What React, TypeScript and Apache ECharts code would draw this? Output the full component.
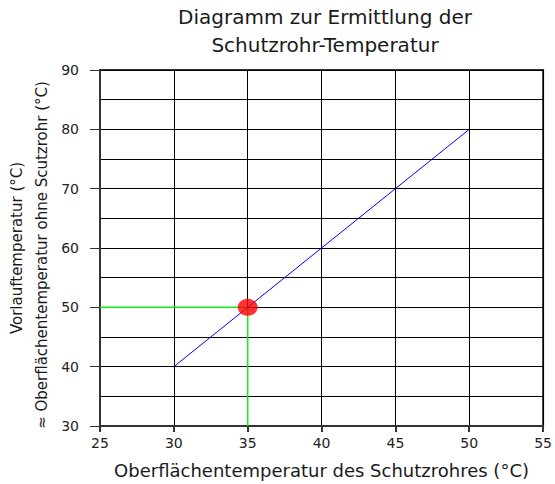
import React, { useEffect, useRef } from "react";
import * as echarts from "echarts";

const titleLines = ["Diagramm zur Ermittlung der", "Schutzrohr-Temperatur"];
const xAxisName = "Oberflächentemperatur des Schutzrohres (°C)";
const yAxisName1 = "Vorlauftemperatur (°C)";
const yAxisName2 = "≈ Oberflächentemperatur ohne Scutzrohr (°C)";

const lineX = [30, 50];
const lineY = [40, 80];
const pointX = 35;
const pointY = 50;
const xMin = 25, xMax = 55, xStep = 5;
const yMin = 30, yMax = 90, yStep = 10;

const FONT = "DejaVu Sans";

export default function App() {
  const ref = useRef<HTMLDivElement>(null);
  useEffect(() => {
    if (!ref.current) return;
    const chart = echarts.init(ref.current, null, { renderer: "svg" });
    const blue = lineX.map((x, i) => [x, lineY[i]]);
    chart.setOption({
      animation: false,
      backgroundColor: "#fff",
      title: {
        text: titleLines.join("\n"),
        left: 320,
        top: -2,
        textAlign: "center",
        textStyle: {
          fontFamily: FONT,
          fontSize: 20,
          fontWeight: "normal",
          color: "#1a1a1a",
          lineHeight: 28,
        },
      },
      grid: {
        left: 100, right: 10, top: 70, bottom: 52, containLabel: false,
        show: true, borderColor: "#333", borderWidth: 2, backgroundColor: "transparent",
      },
      xAxis: {
        type: "value",
        min: xMin,
        max: xMax,
        interval: xStep,
        name: xAxisName,
        nameLocation: "middle",
        nameGap: 35,
        nameTextStyle: { fontFamily: FONT, fontSize: 18, color: "#1a1a1a" },
        axisLine: { show: true, onZero: false, lineStyle: { color: "#333", width: 2 } },
        axisTick: { show: true, length: 6, lineStyle: { color: "#333", width: 2 } },
        axisLabel: { fontFamily: FONT, fontSize: 14, color: "#222", margin: 10 },
        splitLine: { show: true, lineStyle: { color: "#000", width: 1 } },
      },
      yAxis: {
        type: "value",
        min: yMin,
        max: yMax,
        interval: yStep,
        axisLine: { show: true, onZero: false, lineStyle: { color: "#333", width: 2 } },
        axisTick: { show: true, length: 10, lineStyle: { color: "#333", width: 1 } },
        axisLabel: { fontFamily: FONT, fontSize: 14, color: "#222", margin: 21 },
        splitLine: { show: true, lineStyle: { color: "#000", width: 1 } },
        minorTick: { show: false, splitNumber: 2 },
        minorSplitLine: { show: true, lineStyle: { color: "#000", width: 1 } },
      },
      graphic: [
        {
          type: "text",
          x: 17,
          y: 248,
          rotation: Math.PI / 2,
          style: {
            text: yAxisName1,
            align: "center",
            verticalAlign: "middle",
            fontFamily: FONT,
            fontSize: 15,
            fill: "#1a1a1a",
          },
        },
        {
          type: "text",
          x: 42,
          y: 255,
          rotation: Math.PI / 2,
          style: {
            text: yAxisName2,
            align: "center",
            verticalAlign: "middle",
            fontFamily: FONT,
            fontSize: 15,
            fill: "#1a1a1a",
          },
        },
      ],
      series: [
        {
          type: "line",
          data: [[xMin, pointY], [pointX, pointY]],
          symbol: "none",
          lineStyle: { color: "#11ee11", width: 1.5 },
          z: 3,
        },
        {
          type: "line",
          data: [[pointX, yMin], [pointX, pointY]],
          symbol: "none",
          lineStyle: { color: "#11ee11", width: 1.5 },
          z: 3,
        },
        {
          type: "line",
          data: blue,
          symbol: "none",
          lineStyle: { color: "#0000ff", width: 1 },
          z: 4,
        },
        {
          type: "scatter",
          data: [[pointX, pointY]],
          symbol: "circle",
          symbolSize: [20, 17],
          itemStyle: { color: "#ff0000" },
          z: 5,
        },
      ],
    });
    return () => chart.dispose();
  }, []);
  return <div ref={ref} style={{ width: 555, height: 484, position: "absolute", left: 0, top: 0 }} />;
}
